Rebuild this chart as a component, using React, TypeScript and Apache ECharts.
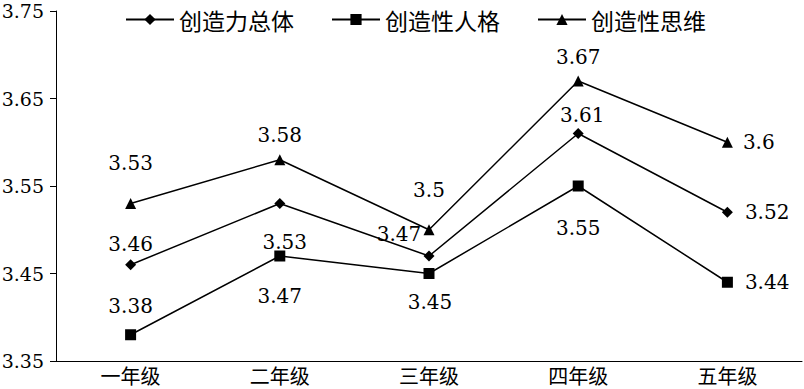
import React, { useEffect, useRef } from "react";
import * as echarts from "echarts";

const categories = ["一年级", "二年级", "三年级", "四年级", "五年级"];
const overall = [3.46, 3.53, 3.47, 3.61, 3.52];
const personality = [3.38, 3.47, 3.45, 3.55, 3.44];
const thinking = [3.53, 3.58, 3.5, 3.67, 3.6];
const yTicks = [3.35, 3.45, 3.55, 3.65, 3.75];
const seriesNames = ["创造力总体", "创造性人格", "创造性思维"];

// label placement per point: [position, distance, dx]
const overallLabels: [string, number, number][] = [
  ["top", 5, 0], ["bottom", 23, 5], ["top", 7, -30], ["top", 3, 4], ["right", 12, 0],
];
const personalityLabels: [string, number, number][] = [
  ["top", 13, 0], ["bottom", 24, 0], ["bottom", 13, 1], ["bottom", 26, 0], ["right", 12, 0],
];
const thinkingLabels: [string, number, number][] = [
  ["top", 25, 0], ["top", 9, 0], ["top", 24, 0], ["top", 9, 0], ["right", 10, 0],
];

const NUM_FONT = "DejaVu Serif";
const CJK_FONT = "Noto Sans CJK SC";

function build(values: number[], placement: [string, number, number][]) {
  return values.map((v, i) => ({
    value: v,
    label: {
      position: placement[i][0],
      distance: placement[i][1],
      offset: [placement[i][2], 0],
    },
  }));
}

export default function App() {
  const ref = useRef<HTMLDivElement>(null);
  useEffect(() => {
    if (!ref.current) return;
    const chart = echarts.init(ref.current, undefined, { renderer: "svg" });
    const common = {
      type: "line",
      lineStyle: { color: "#000", width: 1.5 },
      itemStyle: { color: "#000" },
      label: {
        show: true,
        color: "#000",
        fontFamily: NUM_FONT,
        fontSize: 20,
        formatter: (p: any) => String(p.value),
      },
    };
    chart.setOption({
      animation: false,
      backgroundColor: "#fff",
      grid: { left: 56, right: 2, top: 11, bottom: 28, containLabel: false, outerBoundsMode: "none" },
      legend: {
        top: 3,
        left: 120,
        itemWidth: 48,
        itemHeight: 14,
        itemGap: 37,
        textStyle: { fontFamily: CJK_FONT, fontSize: 23, color: "#000" },
        data: seriesNames,
      },
      xAxis: {
        type: "category",
        data: categories,
        boundaryGap: true,
        axisLine: { lineStyle: { color: "#000", width: 1 } },
        axisTick: { alignWithLabel: true, length: 5, lineStyle: { color: "#000" } },
        axisLabel: { color: "#000", fontFamily: CJK_FONT, fontSize: 20, margin: 4 },
      },
      yAxis: {
        type: "value",
        min: 3.35,
        max: 3.75,
        splitLine: { show: false },
        axisLine: { show: true, lineStyle: { color: "#000", width: 1 } },
        axisTick: { show: true, length: 6, customValues: yTicks, lineStyle: { color: "#000" } },
        axisLabel: {
          color: "#000",
          fontFamily: NUM_FONT,
          fontSize: 19,
          margin: 12,
          customValues: yTicks,
          formatter: (v: number) => v.toFixed(2),
        },
      },
      series: [
        { ...common, name: seriesNames[0], symbol: "diamond", symbolSize: 11, data: build(overall, overallLabels) },
        { ...common, name: seriesNames[1], symbol: "rect", symbolSize: 11, data: build(personality, personalityLabels) },
        { ...common, name: seriesNames[2], symbol: "triangle", symbolSize: 11, data: build(thinking, thinkingLabels) },
      ],
    });
    return () => chart.dispose();
  }, []);
  return <div ref={ref} style={{ width: 804, height: 389, position: "absolute", left: 0, top: 0 }} />;
}
